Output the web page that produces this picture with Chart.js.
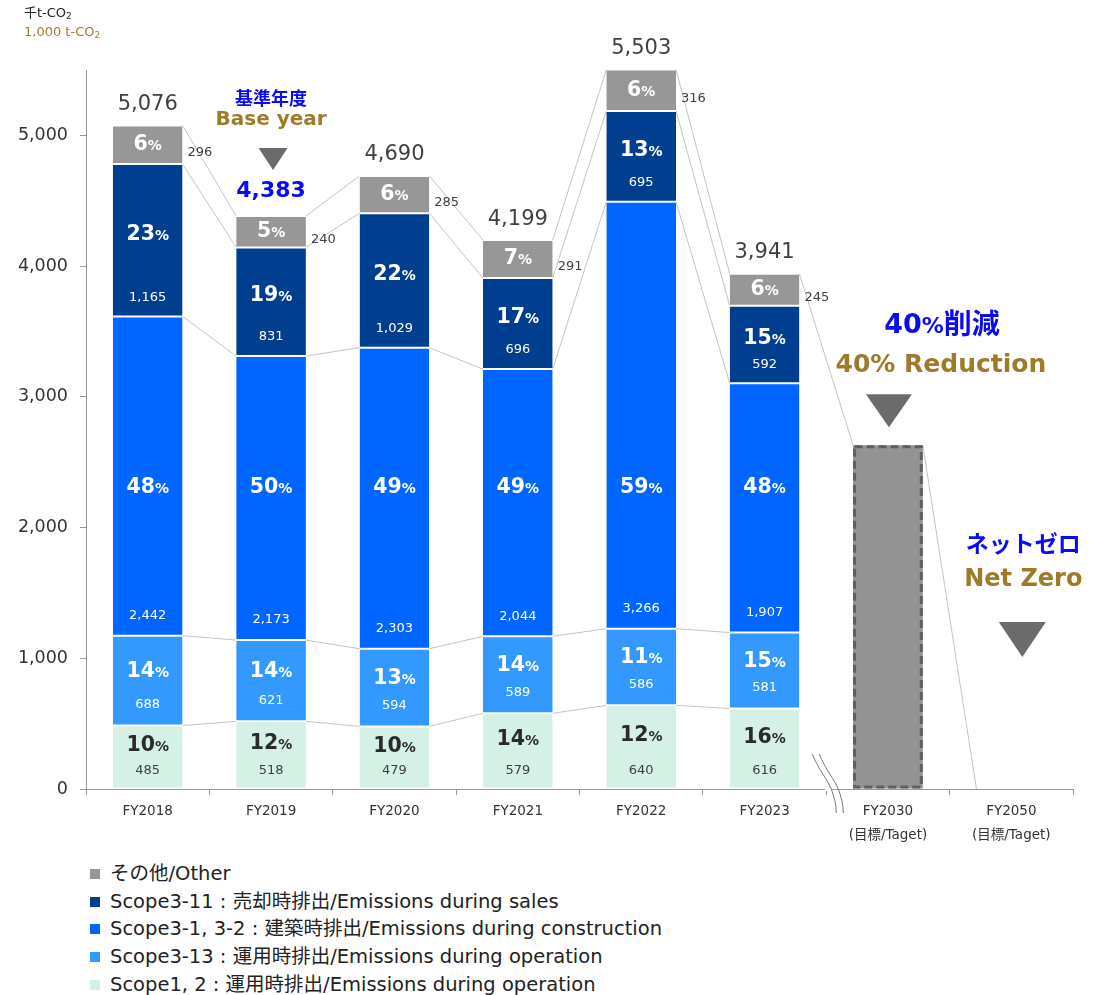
<!DOCTYPE html>
<html>
<head>
<meta charset="utf-8">
<script src="https://cdn.jsdelivr.net/npm/chart.js@4"></script>
<style>
  body { margin: 0; background: #fff; font-family: 'DejaVu Sans', 'Noto Sans CJK JP', sans-serif; }
  #wrap { position: relative; width: 1102px; height: 995px; }
  #chart { position: absolute; left: 0; top: 0; }
  .unit { position: absolute; left: 24px; top: 5px; font-size: 13px; line-height: 16px; color: #222; }
  .unit .en { color: #A07D33; }
  .unit sub { font-size: 9px; vertical-align: -2px; }
  #legend { position: absolute; left: 90px; top: 860px; font-size: 19.5px; color: #222; }
  #legend div { height: 27.7px; line-height: 27.7px; white-space: nowrap; }
  #legend span.box { display: inline-block; width: 10px; height: 10px; margin-right: 10px; vertical-align: 1px; }
</style>
</head>
<body>
<div id="wrap">
  <canvas id="chart" width="1102" height="850"></canvas>
  <div class="unit">千t-CO<sub>2</sub><br><span class="en">1,000 t-CO<sub>2</sub></span></div>
  <div id="legend"></div>
</div>
<script>
(function() {
    'use strict';

    // ---- data ----
    var categories = ['FY2018', 'FY2019', 'FY2020', 'FY2021', 'FY2022', 'FY2023',
                      ['FY2030', '(目標/Taget)'], ['FY2050', '(目標/Taget)']];
    var scope12  = [485, 518, 479, 579, 640, 616, null, null];
    var scope313 = [688, 621, 594, 589, 586, 581, null, null];
    var scope31  = [2442, 2173, 2303, 2044, 3266, 1907, null, null];
    var scope311 = [1165, 831, 1029, 696, 695, 592, null, null];
    var other    = [296, 240, 285, 291, 316, 245, null, null];
    var target   = [null, null, null, null, null, null, 2630, 0];
    var yTicks   = [0, 1000, 2000, 3000, 4000, 5000];

    var seriesNames = [
        'Scope1, 2 : 運用時排出/Emissions during operation',
        'Scope3-13 : 運用時排出/Emissions during operation',
        'Scope3-1, 3-2 : 建築時排出/Emissions during construction',
        'Scope3-11 : 売却時排出/Emissions during sales',
        'その他/Other'
    ];
    var seriesColors = ['#D5F0E5', '#3399FF', '#0066FF', '#003F8F', '#979797'];
    var series = [scope12, scope313, scope31, scope311, other];

    var FONT = "'DejaVu Sans', 'Noto Sans CJK JP', sans-serif";
    var BLUE = '#0A0AF5';
    var GOLD = '#9E7B2A';
    var TRI = '#6B6B6B';

    var totals = categories.map(function(c, i) {
        var s = 0;
        series.forEach(function(arr) { s += arr[i] || 0; });
        return s;
    });

    function fmt(v) { return v.toLocaleString('en-US'); }

    Chart.defaults.font.family = FONT;
    Chart.defaults.color = '#333';

    var datasets = series.map(function(arr, k) {
        return {
            label: seriesNames[k],
            data: arr,
            backgroundColor: seriesColors[k],
            borderColor: '#ffffff',
            borderWidth: { top: 1, bottom: 1, left: 0, right: 0 },
            borderSkipped: false,
            stack: 's'
        };
    });
    datasets.push({
        label: 'target',
        data: target,
        backgroundColor: '#939393',
        borderWidth: 0,
        stack: 's'
    });

    function tri(ctx, cx, top, w, h) {
        ctx.fillStyle = TRI;
        ctx.beginPath();
        ctx.moveTo(cx - w / 2, top);
        ctx.lineTo(cx + w / 2, top);
        ctx.lineTo(cx, top + h);
        ctx.closePath();
        ctx.fill();
    }

    function pct(ctx, x, y, v, color, big, small) {
        var s = String(v);
        ctx.font = 'bold ' + big + 'px ' + FONT;
        var w1 = ctx.measureText(s).width;
        ctx.font = 'bold ' + small + 'px ' + FONT;
        var w2 = ctx.measureText('%').width;
        var x0 = x - (w1 + w2) / 2;
        var base = y + big * 0.36;
        ctx.fillStyle = color;
        ctx.textAlign = 'left';
        ctx.textBaseline = 'alphabetic';
        ctx.font = 'bold ' + big + 'px ' + FONT;
        ctx.fillText(s, x0, base);
        ctx.font = 'bold ' + small + 'px ' + FONT;
        ctx.fillText('%', x0 + w1, base);
    }

    function text(ctx, s, x, y, font, color, align) {
        ctx.font = font;
        ctx.fillStyle = color;
        ctx.textAlign = align || 'center';
        ctx.textBaseline = 'middle';
        ctx.fillText(s, x, y);
    }

    var decor = {
        id: 'decor',
        beforeDatasetsDraw: function(chart) {
            var ctx = chart.ctx;
            ctx.save();
            ctx.strokeStyle = '#C4C4C4';
            ctx.lineWidth = 1;
            for (var d = 0; d < series.length; d++) {
                var bars = chart.getDatasetMeta(d).data;
                for (var i = 0; i < 5; i++) {
                    var a = bars[i], b = bars[i + 1];
                    ctx.beginPath();
                    ctx.moveTo(a.x + a.width / 2, a.y);
                    ctx.lineTo(b.x - b.width / 2, b.y);
                    ctx.stroke();
                }
            }
            var last = chart.getDatasetMeta(4).data[5];
            var tg = chart.getDatasetMeta(5).data;
            ctx.beginPath();
            ctx.moveTo(last.x + last.width / 2, last.y);
            ctx.lineTo(tg[6].x - tg[6].width / 2, tg[6].y);
            ctx.moveTo(tg[6].x + tg[6].width / 2, tg[6].y);
            ctx.lineTo(tg[7].x - tg[6].width / 2, tg[7].y);
            ctx.stroke();
            ctx.restore();
        },
        afterDatasetsDraw: function(chart) {
            var ctx = chart.ctx;
            var yS = chart.scales.y;
            ctx.save();

            // segment labels
            for (var d = 0; d < series.length; d++) {
                var bars = chart.getDatasetMeta(d).data;
                for (var i = 0; i < 6; i++) {
                    var el = bars[i];
                    var v = series[d][i];
                    var p = Math.round(v / totals[i] * 100);
                    var top = el.y, bot = el.base, mid = (top + bot) / 2;
                    var dark = d === 0;
                    var pc = dark ? '#2B2B2B' : '#ffffff';
                    var vc = dark ? '#404040' : '#ffffff';
                    var vf = '13px ' + FONT;
                    if (d === 0) {
                        pct(ctx, el.x, mid - 13, p, pc, 20.5, 14);
                        text(ctx, fmt(v), el.x, bot - 18, vf, vc);
                    } else if (d === 1) {
                        pct(ctx, el.x, mid - 11, p, pc, 20.5, 14);
                        text(ctx, fmt(v), el.x, bot - 21, vf, vc);
                    } else if (d === 2) {
                        pct(ctx, el.x, yS.getPixelForValue(2320), p, pc, 20.5, 14);
                        text(ctx, fmt(v), el.x, bot - 20, vf, vc);
                    } else if (d === 3) {
                        pct(ctx, el.x, mid - 8, p, pc, 20.5, 14);
                        text(ctx, fmt(v), el.x, bot - 19, vf, vc);
                    } else {
                        pct(ctx, el.x, mid - 2, p, pc, 20.5, 14);
                        text(ctx, fmt(v), el.x + el.width / 2 + 5, mid + 8, vf, '#404040', 'left');
                        // total above the bar
                        if (i === 1) {
                            text(ctx, fmt(totals[i]), el.x, top - 25, 'bold 22px ' + FONT, BLUE);
                            tri(ctx, el.x + 2, top - 68, 29, 22);
                            text(ctx, 'Base year', el.x, top - 96, 'bold 20px ' + FONT, GOLD);
                            text(ctx, '基準年度', el.x, top - 116, 'bold 18px ' + FONT, BLUE);
                        } else {
                            text(ctx, fmt(totals[i]), el.x, top - 21, '21px ' + FONT, '#404040');
                        }
                    }
                }
            }

            // FY2030 target bar: dashed outline + annotation
            var tg = chart.getDatasetMeta(5).data;
            var t = tg[6];
            ctx.strokeStyle = '#606060';
            ctx.lineWidth = 3;
            ctx.setLineDash([8, 4]);
            ctx.strokeRect(t.x - t.width / 2 + 1.5, t.y + 1.5, t.width - 3, t.base - t.y - 3);
            ctx.setLineDash([]);
            tri(ctx, t.x + 1, t.y - 51, 46, 33);
            text(ctx, '40% Reduction', t.x + 53, t.y - 80, 'bold 25px ' + FONT, GOLD);
            // "40%削減" built from pieces
            ctx.textBaseline = 'alphabetic';
            ctx.textAlign = 'left';
            var f1 = 'bold 27px ' + FONT, f2 = 'bold 22px ' + FONT, f3 = 'bold 28px ' + FONT;
            ctx.font = f1; var w1 = ctx.measureText('40').width;
            ctx.font = f2; var w2 = ctx.measureText('%').width;
            ctx.font = f3; var w3 = ctx.measureText('削減').width;
            var x0 = t.x + 54 - (w1 + w2 + w3) / 2;
            var bl = t.y - 112;
            ctx.fillStyle = BLUE;
            ctx.font = f1; ctx.fillText('40', x0, bl);
            ctx.font = f2; ctx.fillText('%', x0 + w1, bl);
            ctx.font = f3; ctx.fillText('削減', x0 + w1 + w2, bl + 1);

            // FY2050 net zero annotation
            var z = tg[7];
            tri(ctx, z.x + 11, z.base - 167, 47, 35);
            text(ctx, 'Net Zero', z.x + 12, z.base - 209, 'bold 24px ' + FONT, GOLD);
            text(ctx, 'ネットゼロ', z.x + 12, z.base - 243, 'bold 23px ' + FONT, BLUE);

            // axis break between FY2023 and FY2030
            var o = chart.getDatasetMeta(4).data;
            var bx = (o[5].x + t.x) / 2;
            var y0 = yS.getPixelForValue(0);
            function curve(dx) {
                ctx.moveTo(bx - 14 + dx, y0 - 35);
                ctx.bezierCurveTo(bx - 8 + dx, y0 - 20, bx + 2 + dx, y0 - 8, bx + 5 + dx, y0);
                ctx.bezierCurveTo(bx + 8 + dx, y0 + 8, bx + 10 + dx, y0 + 15, bx + 10 + dx, y0 + 24);
            }
            ctx.fillStyle = '#ffffff';
            ctx.fillRect(bx - 1, y0 - 2, 7, 4);
            ctx.strokeStyle = '#777777';
            ctx.lineWidth = 1;
            ctx.beginPath();
            curve(0);
            curve(7);
            ctx.stroke();

            ctx.restore();
        }
    };

    new Chart(document.getElementById('chart').getContext('2d'), {
        type: 'bar',
        data: { labels: categories, datasets: datasets },
        plugins: [decor],
        options: {
            responsive: false,
            animation: false,
            events: [],
            layout: { padding: { top: 70, right: 29, left: 0, bottom: 0 } },
            datasets: { bar: { barPercentage: 0.565, categoryPercentage: 1 } },
            plugins: { legend: { display: false }, tooltip: { enabled: false } },
            scales: {
                x: {
                    stacked: true,
                    grid: { drawOnChartArea: false, drawTicks: true, tickLength: 6, color: '#999', offset: true },
                    border: { color: '#999' },
                    ticks: { font: { size: 13.5, lineHeight: 1.75 }, color: '#333', padding: 5 },
                    afterFit: function(s) { s.height = 61; }
                },
                y: {
                    stacked: true,
                    min: 0,
                    max: 5500,
                    grid: { drawOnChartArea: false, drawTicks: true, tickLength: 6, color: '#999' },
                    border: { color: '#999' },
                    afterBuildTicks: function(s) { s.ticks = yTicks.map(function(v) { return { value: v }; }); },
                    ticks: {
                        font: { size: 17.5 },
                        color: '#333',
                        padding: 12,
                        callback: function(v) { return fmt(v); }
                    },
                    afterFit: function(s) { s.width = 86; }
                }
            }
        }
    });

    // legend, top item = last series
    var lg = document.getElementById('legend');
    for (var k = series.length - 1; k >= 0; k--) {
        var row = document.createElement('div');
        row.innerHTML = '<span class="box" style="background:' + seriesColors[k] + '"></span>' + seriesNames[k];
        lg.appendChild(row);
    }
})();
</script>
</body>
</html>
